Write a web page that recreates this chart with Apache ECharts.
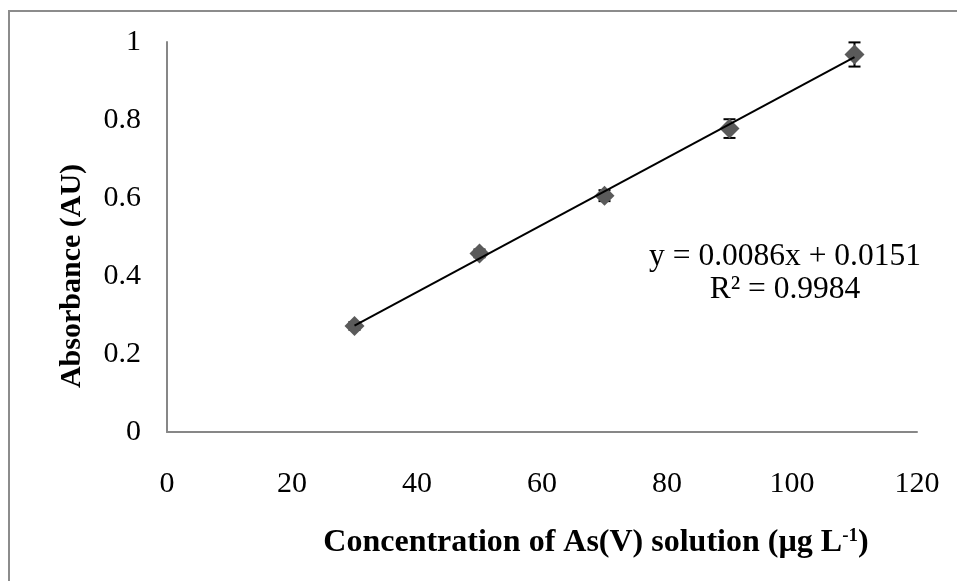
<!DOCTYPE html>
<html>
<head>
<meta charset="utf-8">
<script src="https://cdn.jsdelivr.net/npm/echarts@6/dist/echarts.min.js"></script>
<style>
html,body{margin:0;padding:0;background:#fff;}
#chart{width:957px;height:581px;}
</style>
</head>
<body>
<div id="chart"></div>
<script>
// Data
const concentrations = [30, 50, 70, 90, 110];
const absorbance = [0.272, 0.458, 0.606, 0.778, 0.968];
const errors = [0.010, 0.010, 0.014, 0.024, 0.031];
const trendX = [30, 110];
const trendY = [0.273, 0.961];
const xTicks = [0, 20, 40, 60, 80, 100, 120];
const yTicks = [0, 0.2, 0.4, 0.6, 0.8, 1];
const equationLines = ['y = 0.0086x + 0.0151', 'R² = 0.9984'];
const xTitle = 'Concentration of As(V) solution (µg L';
const yTitle = 'Absorbance (AU)';

const FONT = '"Liberation Serif", "Times New Roman", serif';

const chart = echarts.init(document.getElementById('chart'), null, {renderer: 'canvas'});

const pointData = concentrations.map((x, i) => [x, absorbance[i]]);
const errData = concentrations.map((x, i) => [x, absorbance[i] - errors[i], absorbance[i] + errors[i]]);
const trendData = trendX.map((x, i) => [x, trendY[i]]);

const option = {
  backgroundColor: '#ffffff',
  animation: false,
  grid: {left: 167, top: 42, right: 40, bottom: 149, containLabel: false},
  xAxis: {
    type: 'value',
    min: xTicks[0],
    max: xTicks[xTicks.length - 1],
    interval: 20,
    axisLine: {show: true, lineStyle: {color: '#878787', width: 2}},
    axisTick: {show: false},
    splitLine: {show: false},
    axisLabel: {fontFamily: FONT, fontSize: 30, color: '#000', margin: 37}
  },
  yAxis: {
    type: 'value',
    min: yTicks[0],
    max: yTicks[yTicks.length - 1],
    interval: 0.2,
    axisLine: {show: true, lineStyle: {color: '#878787', width: 2}},
    axisTick: {show: false},
    splitLine: {show: false},
    axisLabel: {fontFamily: FONT, fontSize: 30, color: '#000', margin: 26}
  },
  graphic: [
    {
      type: 'rect',
      silent: true,
      shape: {x: 9, y: 11, width: 1200, height: 900},
      style: {fill: 'none', stroke: '#8c8c8c', lineWidth: 2}
    },
    {
      type: 'text',
      position: [785, 257],
      style: {
        text: equationLines[0],
        font: '31.5px ' + FONT,
        fill: '#000',
        align: 'center',
        verticalAlign: 'middle'
      }
    },
    {
      type: 'text',
      position: [785, 290],
      style: {
        text: equationLines[1],
        font: '31.5px ' + FONT,
        fill: '#000',
        align: 'center',
        verticalAlign: 'middle'
      }
    },
    {
      type: 'text',
      position: [596, 543],
      style: {
        text: '{m|' + xTitle + '}{s|-1}{m|)}',
        align: 'center',
        verticalAlign: 'middle',
        rich: {
          m: {font: 'bold 32px ' + FONT, fill: '#000', color: '#000'},
          s: {font: 'bold 19px ' + FONT, fill: '#000', color: '#000', verticalAlign: 'top', padding: [0, 0, 14, 0]}
        }
      }
    },
    {
      type: 'text',
      position: [72, 276],
      rotation: Math.PI / 2,
      style: {
        text: yTitle,
        font: 'bold 30px ' + FONT,
        fill: '#000',
        align: 'center',
        verticalAlign: 'middle'
      }
    }
  ],
  series: [
    {
      type: 'custom',
      z: 2,
      data: errData,
      renderItem: function (params, api) {
        const x = api.value(0);
        const lo = api.coord([x, api.value(1)]);
        const hi = api.coord([x, api.value(2)]);
        const cap = 6;
        const st = {stroke: '#000', lineWidth: 2};
        return {
          type: 'group',
          children: [
            {type: 'line', shape: {x1: lo[0], y1: lo[1], x2: hi[0], y2: hi[1]}, style: st},
            {type: 'line', shape: {x1: lo[0] - cap, y1: lo[1], x2: lo[0] + cap, y2: lo[1]}, style: st},
            {type: 'line', shape: {x1: hi[0] - cap, y1: hi[1], x2: hi[0] + cap, y2: hi[1]}, style: st}
          ]
        };
      }
    },
    {
      type: 'scatter',
      z: 3,
      symbol: 'diamond',
      symbolSize: 20,
      itemStyle: {color: '#5a5a5a', opacity: 1},
      data: pointData
    },
    {
      type: 'line',
      z: 4,
      symbol: 'none',
      lineStyle: {color: '#000', width: 2},
      data: trendData
    }
  ]
};
chart.setOption(option);
</script>
</body>
</html>
